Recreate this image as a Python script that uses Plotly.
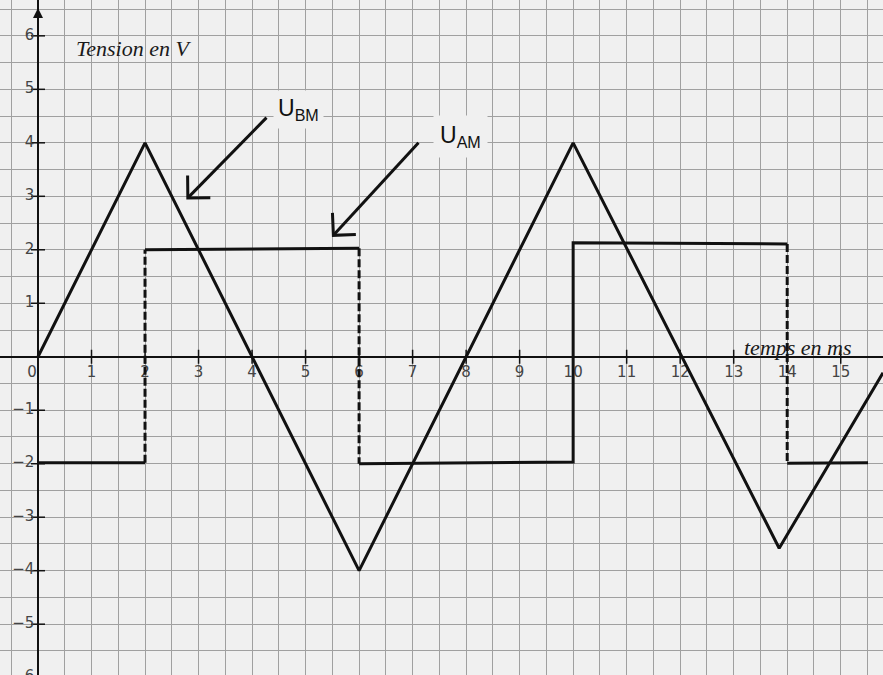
import math
import plotly.graph_objects as go

BG = "#f0f0f0"
INK = "#111111"

# U_BM : triangle wave (time in ms, voltage in V)
bm_t = [0, 2, 6, 10, 13.85, 15.79]
bm_u = [0, 4, -4, 4, -3.58, -0.30]

# U_AM : square wave, vertical jumps listed as repeated times
am_t = [0, 2, 2, 6, 6, 10, 10, 14, 14, 15.51]
am_u = [-1.98, -1.98, 2.0, 2.03, -2.0, -1.97, 2.13, 2.11, -1.99, -1.98]
am_dashed_at = [2, 6, 14]

x_ticks = list(range(1, 16))
y_ticks = [v for v in range(-6, 7) if v != 0]

# pointer arrows: start x, start y, tip x, tip y
bm_arrow = [4.27, 4.47, 2.80, 2.97]
am_arrow = [7.11, 4.00, 5.52, 2.27]


def minus(v):
    return str(v).replace("-", "\u2212")


def arrow_path(a, length=0.42, ang=45):
    x0, y0, x1, y1 = a
    dx, dy = x0 - x1, y0 - y1
    n = math.hypot(dx, dy)
    dx, dy = dx / n, dy / n
    heads = []
    for s in (1, -1):
        r = math.radians(ang * s)
        heads.append((x1 + length * (dx * math.cos(r) - dy * math.sin(r)),
                      y1 + length * (dx * math.sin(r) + dy * math.cos(r))))
    xs = [x0, x1, None, heads[0][0], x1, heads[1][0]]
    ys = [y0, y1, None, heads[0][1], y1, heads[1][1]]
    return xs, ys


# split the square wave into solid and dashed pieces
sx, sy = [am_t[0]], [am_u[0]]
dx_, dy_ = [], []
for i in range(1, len(am_t)):
    if am_t[i] == am_t[i - 1] and am_t[i] in am_dashed_at:
        dx_ += [am_t[i - 1], am_t[i], None]
        dy_ += [am_u[i - 1], am_u[i], None]
        sx.append(None)
        sy.append(None)
    sx.append(am_t[i])
    sy.append(am_u[i])

fig = go.Figure()

# tick marks on the axes
fig.add_trace(go.Scatter(
    x=x_ticks, y=[0] * len(x_ticks), mode="markers",
    marker=dict(symbol="line-ns", size=10, line=dict(width=1.5, color=INK)),
    hoverinfo="skip"))
fig.add_trace(go.Scatter(
    x=[0] * len(y_ticks), y=y_ticks, mode="markers",
    marker=dict(symbol="line-ew", size=10, line=dict(width=1.5, color=INK)),
    hoverinfo="skip"))

# tick labels
fig.add_trace(go.Scatter(
    x=[-0.11] + x_ticks, y=[-0.31] * (len(x_ticks) + 1), mode="text",
    text=["0"] + [str(v) for v in x_ticks], textposition="middle center",
    textfont=dict(family="DejaVu Sans", size=15, color="#444444"),
    hoverinfo="skip"))
fig.add_trace(go.Scatter(
    x=[-0.07] * len(y_ticks), y=y_ticks, mode="text",
    text=[minus(v) for v in y_ticks], textposition="middle left",
    textfont=dict(family="DejaVu Sans", size=15, color="#444444"),
    hoverinfo="skip"))

# curves
fig.add_trace(go.Scatter(x=bm_t, y=bm_u, mode="lines",
                         line=dict(color=INK, width=3), name="U_BM"))
fig.add_trace(go.Scatter(x=sx, y=sy, mode="lines",
                         line=dict(color=INK, width=3), name="U_AM"))
fig.add_trace(go.Scatter(x=dx_, y=dy_, mode="lines",
                         line=dict(color=INK, width=3, dash="8px,3px"),
                         name="U_AM jumps"))

for a in (bm_arrow, am_arrow):
    ax_, ay_ = arrow_path(a)
    fig.add_trace(go.Scatter(x=ax_, y=ay_, mode="lines",
                             line=dict(color=INK, width=3), hoverinfo="skip"))

fig.add_annotation(x=0, y=6.52, ax=0, ay=6.0, xref="x", yref="y",
                   axref="x", ayref="y", text="", showarrow=True,
                   arrowhead=2, arrowsize=1, arrowwidth=2, arrowcolor=INK)

fig.add_annotation(x=1.78, y=5.77, text="<i>Tension en V</i>", showarrow=False,
                   font=dict(family="Liberation Serif", size=22, color="#1a1a1a"))
fig.add_annotation(x=14.21, y=0.17, text="<i>temps en ms</i>", showarrow=False,
                   font=dict(family="Liberation Serif", size=22, color="#1a1a1a"))
fig.add_annotation(x=4.86, y=4.63, text="U<sub>BM</sub>", showarrow=False,
                   bgcolor=BG, borderpad=4,
                   font=dict(family="Liberation Sans", size=23, color=INK))
fig.add_annotation(x=7.89, y=4.12, text="U<sub>AM</sub>", showarrow=False,
                   bgcolor=BG, borderpad=6,
                   font=dict(family="Liberation Sans", size=23, color=INK))

fig.update_layout(
    width=883, height=675,
    margin=dict(l=0, r=0, t=0, b=0),
    paper_bgcolor=BG, plot_bgcolor=BG,
    showlegend=False,
)
fig.update_xaxes(range=[-0.71, 15.79], tick0=0, dtick=0.5, showgrid=True,
                 gridcolor="#a0a0a0", gridwidth=1, showticklabels=False,
                 ticks="", zeroline=True, zerolinecolor=INK, zerolinewidth=2)
fig.update_yaxes(range=[-5.95, 6.67], tick0=0, dtick=0.5, showgrid=True,
                 gridcolor="#a0a0a0", gridwidth=1, showticklabels=False,
                 ticks="", zeroline=True, zerolinecolor=INK, zerolinewidth=2)

fig.write_html("out.html", config={"displayModeBar": False},
               post_script="document.body.style.margin='0px';")
